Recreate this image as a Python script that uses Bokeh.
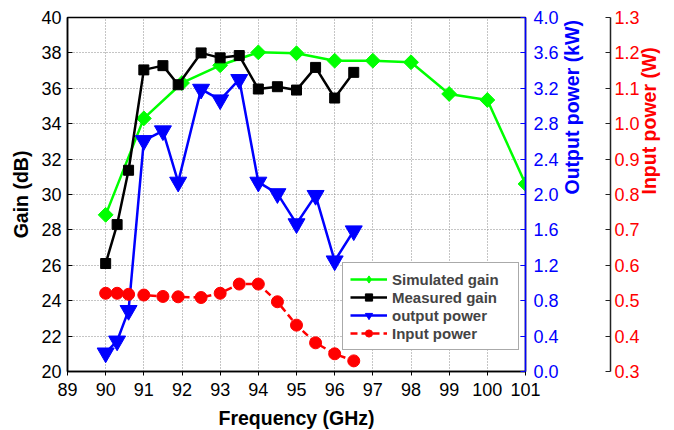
import math
from bokeh.plotting import figure
from bokeh.models import LinearAxis, Range1d, FixedTicker, NumeralTickFormatter, Legend
from bokeh.embed import file_html
from bokeh.resources import INLINE

# ---- data ----
sim_freq = [90, 91, 92, 93, 94, 95, 96, 97, 98, 99, 100, 101]
sim_gain = [28.85, 34.3, 36.3, 37.3, 38.03, 37.98, 37.56, 37.56, 37.47, 35.68, 35.34, 30.6]

meas_freq = [90, 90.3, 90.6, 91, 91.5, 91.9, 92.5, 93, 93.5, 94, 94.5, 95, 95.5, 96, 96.5]
meas_gain = [26.1, 28.3, 31.37, 37.04, 37.28, 36.2, 38.0, 37.72, 37.85, 35.96, 36.09, 35.9, 37.18, 35.45, 36.9]
out_power = [0.21, 0.345, 0.69, 2.61, 2.72, 2.14, 3.19, 3.07, 3.30, 2.14, 2.01, 1.67, 1.99, 1.25, 1.59]
in_power = [0.521, 0.521, 0.518, 0.516, 0.512, 0.511, 0.509, 0.521, 0.547, 0.547, 0.497, 0.431, 0.381, 0.350, 0.330]

x_ticks = list(range(89, 102))
gain_ticks = list(range(20, 41, 2))
out_ticks = [round(0.4 * i, 1) for i in range(11)]
in_ticks = [round(0.3 + 0.1 * i, 1) for i in range(11)]

FONT = "Liberation Sans"
GREEN = "#00FF00"
BLUE = "#0000FF"
RED = "#FF0000"

p = figure(frame_width=458, frame_height=354, x_range=Range1d(89, 101), y_range=Range1d(20, 40),
           output_backend="svg", toolbar_location=None,
           min_border_left=67, min_border_top=17, min_border_right=6, min_border_bottom=10)
p.extra_y_ranges = {"out": Range1d(0, 4), "inp": Range1d(0.3, 1.3)}
p.outline_line_color = "black"
p.outline_line_width = 1.5
p.background_fill_color = "white"
p.border_fill_color = "white"

# axes styling
xa = p.xaxis[0]
xa.ticker = FixedTicker(ticks=x_ticks)
xa.axis_label = "Frequency (GHz)"
ya = p.yaxis[0]
ya.ticker = FixedTicker(ticks=gain_ticks)
ya.axis_label = "Gain (dB)"
for ax in (xa, ya):
    ax.axis_label_text_font = FONT
    ax.axis_label_text_font_style = "bold"
    ax.axis_label_text_font_size = "19.5px"
    ax.axis_label_text_color = "black"
    ax.major_label_text_font = FONT
    ax.major_label_text_font_size = "18px"
    ax.major_label_text_color = "black"
    ax.axis_line_color = "black"
    ax.axis_line_width = 1.5
    ax.major_tick_line_color = "black"
    ax.minor_tick_line_color = None
xa.major_tick_in = 0
xa.major_tick_out = 4
xa.major_label_standoff = 7
xa.axis_label_standoff = 8
ya.major_tick_in = 5
ya.major_tick_out = 0
ya.major_label_standoff = 6
ya.axis_label_standoff = 6

# blue right axis
ba = LinearAxis(y_range_name="out", ticker=FixedTicker(ticks=out_ticks),
                formatter=NumeralTickFormatter(format="0.0"), axis_label="Output power (kW)")
ba.axis_line_color = BLUE
ba.axis_line_width = 1.5
ba.major_tick_line_color = BLUE
ba.minor_tick_line_color = None
ba.major_tick_in = 5
ba.major_tick_out = 0
ba.major_label_standoff = 8
ba.major_label_text_color = BLUE
ba.major_label_text_font = FONT
ba.major_label_text_font_size = "18px"
ba.axis_label_text_color = BLUE
ba.axis_label_text_font = FONT
ba.axis_label_text_font_style = "bold"
ba.axis_label_text_font_size = "19.5px"
ba.axis_label_standoff = 10
ba.axis_label_orientation = math.pi / 2
p.add_layout(ba, "right")

# spacer axis (reserves room between the two right axes)
sp = LinearAxis(y_range_name="out", ticker=FixedTicker(ticks=[0]))
sp.axis_line_color = None
sp.major_tick_line_color = "white"
sp.minor_tick_line_color = None
sp.major_tick_in = 0
sp.major_tick_out = 14
sp.major_label_standoff = 0
sp.major_label_text_color = None
sp.major_label_text_font_size = "1px"
p.add_layout(sp, "right")

# red right axis
ra = LinearAxis(y_range_name="inp", ticker=FixedTicker(ticks=in_ticks),
                formatter=NumeralTickFormatter(format="0.0"), axis_label="Input power (W)")
ra.axis_line_color = "#222222"
ra.axis_line_width = 1.5
ra.major_tick_line_color = "#222222"
ra.minor_tick_line_color = None
ra.major_tick_in = 5
ra.major_tick_out = 0
ra.major_label_standoff = 4
ra.major_label_text_color = RED
ra.major_label_text_font = FONT
ra.major_label_text_font_size = "18px"
ra.axis_label_text_color = RED
ra.axis_label_text_font = FONT
ra.axis_label_text_font_style = "bold"
ra.axis_label_text_font_size = "19.5px"
ra.axis_label_standoff = 6
ra.axis_label_orientation = math.pi / 2
p.add_layout(ra, "right")

# grid
p.xgrid.ticker = FixedTicker(ticks=x_ticks[1:-1])
p.ygrid.ticker = FixedTicker(ticks=gain_ticks[1:-1])
for g in (p.xgrid[0], p.ygrid[0]):
    g.grid_line_color = "#8a8a8a"
    g.grid_line_dash = "1 2"
    g.grid_line_width = 1

# series
l1 = p.line(sim_freq, sim_gain, line_color=GREEN, line_width=2.5)
s1 = p.scatter(sim_freq, sim_gain, marker="square", angle=math.pi / 4, size=10.5,
               fill_color=GREEN, line_color=GREEN)
# legend-only diamond swatch (hidden in the plot)
s1_leg = p.scatter(sim_freq, sim_gain, marker="diamond", size=16,
                   fill_color=GREEN, line_color=GREEN, visible=False)
l2 = p.line(meas_freq, meas_gain, line_color="black", line_width=2.5)
s2 = p.scatter(meas_freq, meas_gain, marker="square", size=10, fill_color="black", line_color="black")
l3 = p.line(meas_freq, out_power, line_color=BLUE, line_width=2.5, y_range_name="out")
s3 = p.scatter(meas_freq, out_power, marker="inverted_triangle", size=17, fill_color=BLUE,
               line_color=BLUE, y_range_name="out")
l4 = p.line(meas_freq, in_power, line_color=RED, line_width=2.5, line_dash="7 4", y_range_name="inp")
s4 = p.scatter(meas_freq, in_power, marker="circle", size=12, fill_color=RED, line_color=RED,
               y_range_name="inp")

legend = Legend(items=[("Simulated gain", [l1, s1_leg]), ("Measured gain", [l2, s2]),
                       ("output power", [l3, s3]), ("Input power", [l4, s4])],
                location=(275, 21))
legend.label_text_font = FONT
legend.label_text_font_style = "bold"
legend.label_text_font_size = "15px"
legend.label_height = 18
legend.glyph_height = 18
legend.glyph_width = 37
legend.label_width = 119
legend.label_standoff = 5
legend.spacing = 0
legend.padding = 7
legend.margin = 0
legend.border_line_color = "#555555"
legend.border_line_width = 1
legend.background_fill_color = "white"
legend.background_fill_alpha = 1
p.add_layout(legend, "center")

open("out.html", "w").write(file_html(p, INLINE))
